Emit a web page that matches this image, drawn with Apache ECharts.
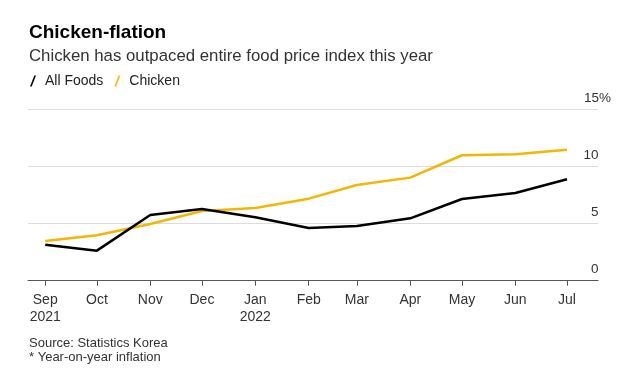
<!DOCTYPE html>
<html>
<head>
<meta charset="utf-8">
<script src="https://cdn.jsdelivr.net/npm/echarts@6/dist/echarts.min.js"></script>
<style>html,body{margin:0;padding:0;background:#fff;}#c{width:640px;height:383px;}</style>
</head>
<body>
<div id="c"></div>
<script>
const months = ['2021-09-01','2021-10-01','2021-11-01','2021-12-01','2022-01-01','2022-02-01','2022-03-01','2022-04-01','2022-05-01','2022-06-01','2022-07-01'];
const monthLabels = ['Sep\n2021','Oct','Nov','Dec','Jan\n2022','Feb','Mar','Apr','May','Jun','Jul'];
const allFoods = [3.15, 2.63, 5.75, 6.28, 5.55, 4.61, 4.79, 5.46, 7.15, 7.68, 8.88];
const chicken = [3.48, 3.97, 4.96, 6.10, 6.37, 7.18, 8.38, 9.02, 10.98, 11.07, 11.45];
const yTicks = [0, 5, 10, 15];

const FONT = '"Liberation Sans", Arial, Helvetica, sans-serif';
// day number since epoch (UTC) for a date string
function dayNum(s){ const p = s.split('-').map(Number); return Math.round(Date.UTC(p[0], p[1]-1, p[2]) / 86400000); }
const monthDays = months.map(dayNum);
const labelByDay = {};
monthDays.forEach((d,i)=>{ labelByDay[d] = monthLabels[i]; });

const chart = echarts.init(document.getElementById('c'), null, {renderer:'canvas'});
chart.setOption({
  backgroundColor: '#fff',
  animation: false,
  textStyle: {fontFamily: FONT},
  title: [
    {text: 'Chicken-flation', left: 24, top: 18, textStyle: {fontFamily: FONT, fontSize: 19, fontWeight: 'bold', color: '#000'}},
    {text: 'Chicken has outpaced entire food price index this year', left: 24, top: 43, textStyle: {fontFamily: FONT, fontSize: 16.8, fontWeight: 'normal', color: '#333'}},
    {text: 'Source: Statistics Korea\n* Year-on-year inflation', left: 24, top: 331, textStyle: {fontFamily: FONT, fontSize: 13, lineHeight: 14.5, fontWeight: 'normal', color: '#333'}}
  ],
  legend: {
    left: 25, top: 69,
    itemWidth: 6, itemHeight: 11, itemGap: 11,
    textStyle: {fontFamily: FONT, fontSize: 14, color: '#222', padding: [0,0,0,4]},
    data: [
      {name: 'All Foods', icon: 'path://M4.3,0 L6,0 L1.7,11 L0,11 Z', itemStyle: {color: '#000'}},
      {name: 'Chicken', icon: 'path://M4.3,0 L6,0 L1.7,11 L0,11 Z', itemStyle: {color: '#F2B705'}}
    ]
  },
  grid: {left: 28, right: 42, top: 109.3, bottom: 102.3, containLabel: false},
  xAxis: {
    type: 'value',
    min: dayNum('2021-08-22'),
    max: dayNum('2022-07-19'),
    axisLine: {show: true, onZero: false, lineStyle: {color: '#555', width: 1}},
    axisTick: {show: true, customValues: monthDays, length: 5, lineStyle: {color: '#555'}},
    axisLabel: {
      customValues: monthDays,
      formatter: function(v){ return labelByDay[v] || ''; },
      fontFamily: FONT, fontSize: 14, color: '#333', lineHeight: 17, margin: 11,
      hideOverlap: false
    },
    splitLine: {show: false}
  },
  yAxis: {
    type: 'value',
    position: 'right',
    min: 0, max: 15, interval: 5,
    axisLine: {show: false},
    axisTick: {show: false},
    splitLine: {show: true, lineStyle: {color: '#dcdcdc', width: 1}},
    axisLabel: {
      align: 'right', verticalAlign: 'bottom', margin: 13,
      padding: [0,0,4,0],
      fontFamily: FONT, fontSize: 13.5, color: '#333',
      formatter: function(v){ return v === 15 ? '15%' : v + '{pad|}'; },
      rich: {pad: {width: 12.5}}
    }
  },
  series: [
    {name: 'All Foods', type: 'line', data: months.map((m,i)=>[dayNum(m), allFoods[i]]), showSymbol: false, symbol: 'none',
     lineStyle: {color: '#000', width: 2.5}, itemStyle: {color: '#000'}, z: 3},
    {name: 'Chicken', type: 'line', data: months.map((m,i)=>[dayNum(m), chicken[i]]), showSymbol: false, symbol: 'none',
     lineStyle: {color: '#F2B705', width: 2.5}, itemStyle: {color: '#F2B705'}, z: 2}
  ]
});
</script>
</body>
</html>
